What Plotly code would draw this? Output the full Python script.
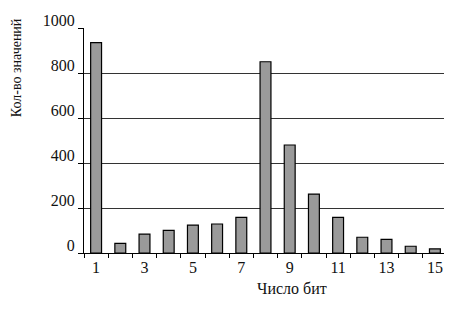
import plotly.graph_objects as go

bits = list(range(1, 16))
counts = [935, 43, 84, 101, 124, 129, 158, 850, 480, 262, 158, 70, 61, 30, 18]
x_tick_labels = [1, 3, 5, 7, 9, 11, 13, 15]
y_ticks = [0, 200, 400, 600, 800, 1000]

font = "Liberation Serif"

fig = go.Figure(
    go.Bar(
        x=bits,
        y=counts,
        width=0.45,
        marker=dict(color="#9a9a9a", line=dict(color="#000000", width=1.2)),
    )
)

# page body has an 8px default margin; figure is sized to fit the 452x319 window
fig.update_layout(
    width=444,
    height=311,
    margin=dict(l=76, r=5, t=20, b=66, autoexpand=False),
    paper_bgcolor="white",
    plot_bgcolor="white",
    showlegend=False,
    font=dict(family=font, size=16, color="#111111"),
)

fig.update_xaxes(
    range=[0.5, 15.5],
    tickmode="array",
    tickvals=x_tick_labels,
    ticktext=[str(v) for v in x_tick_labels],
    ticks="",
    showgrid=False,
    showline=True,
    linecolor="#000000",
    linewidth=1.2,
    zeroline=False,
    automargin=False,
    minor=dict(tick0=0.5, dtick=1, ticks="outside", ticklen=4, tickcolor="#000000", showgrid=False),
    tickfont=dict(family=font, size=16, color="#111111"),
)

fig.update_yaxes(
    range=[0, 1000],
    tickmode="array",
    tickvals=y_ticks,
    ticks="outside",
    ticklen=5,
    tickcolor="#000000",
    showgrid=True,
    gridcolor="#333333",
    gridwidth=1,
    showline=True,
    linecolor="#000000",
    linewidth=1.2,
    zeroline=False,
    automargin=False,
    ticklabelshift=-8,
    tickfont=dict(family=font, size=16, color="#111111"),
)

fig.add_annotation(
    text="Кол-во значений", xref="paper", yref="paper",
    x=-0.187, y=0.822, xanchor="center", yanchor="middle",
    textangle=-90, showarrow=False,
    font=dict(family=font, size=14, color="#111111"),
)
fig.add_annotation(
    text="Число бит", xref="paper", yref="paper",
    x=0.573, y=-0.156, xanchor="center", yanchor="middle", showarrow=False,
    font=dict(family=font, size=16, color="#111111"),
)

fig.write_html("out.html")
